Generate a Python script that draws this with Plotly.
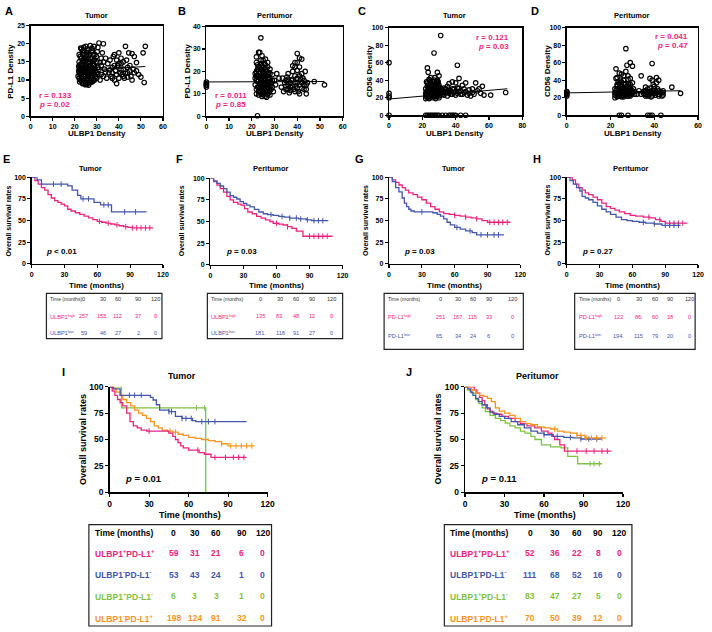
import plotly.graph_objects as go

W, H = 712, 632
FONT = "Liberation Sans, Arial, sans-serif"
PINK, BLUE, GREEN, ORANGE = "#E8247F", "#4356A8", "#7DC242", "#F7931E"

# ---------------- scatter data ----------------
ptsA = [(22,12),(22.5,13),(23,11),(23.5,14),(24,10),(24.5,12.5),(25,11.5),(25.5,13.5),(26,10.5),(26.5,12),
        (27,14),(27.5,11),(28,12.5),(28.5,10),(29,13),(22,15),(23,16),(24,17.5),(25,15.5),(26,16.5),(27,15),
        (28,16),(29,15.5),(22.5,10),(23.5,9),(24.5,9.5),(25.5,8.8),(26.5,9.2),(27.5,9.8),(28.5,11.5),(22,17),
        (23,18.5),(24,19),(25,19.3),(26,18),(27,19.5),(28,18.2),(22.5,11.5),(23.5,12.2),(24.5,13.8),(25.5,10.2),
        (26.5,14.5),(27.5,13.2),(28.5,14.2),(29.5,11),(23,13.5),(24,11.2),(25,12.8),(26,13.2),(27,10.8),
        (21.8,13.8),(22.2,9.5),(23.8,15.2),(25.2,16.8),(26.8,11.8),(28.2,12.2),(29.2,17),(30,12),(30.5,19),
        (31,20.2),(32,11.5),(32.5,17.5),(33,20),(33.5,13),(34,16),(34.5,10.5),(35,14.5),(35.5,12),(36,15.5),
        (36.5,11),(37,13.5),(37.5,16.5),(38,10),(38.5,12.5),(39,9),(39.5,14),(40,17.5),(40.5,12),(41,14.5),
        (41.5,11.5),(42,13),(42.5,10.5),(43,19.3),(43.5,15.5),(44,12),(44.5,17.5),(45,14),(45.5,11),(46,17.3),
        (46.5,13),(47,16.5),(48,12.5),(49,11.5),(50,10.8),(51,17.5),(51.5,9.3),(52,19.3),(38,17),(40,14.5),
        (42,11),(44,13.5),(36,12.8),(34,12.2),(31.5,14.8),(30.5,13.5),
        (21.5,11),(22,10.5),(22.5,12),(23,12.5),(23.5,10.5),(24,13),(24.5,11),(25,10),(25.5,12),(26,11.5),
        (26.5,13),(27,12),(27.5,12.5),(28,10.8),(28.5,13),(29,11.5),(22,13.5),(23,14.5),(24,15.5),(25,14),
        (26,14.8),(27,16),(28,14.5),(29,14),(22.5,16.5),(23.5,17),(24.5,16),(25.5,17.5),(26.5,17),(27.5,17.8),
        (28.5,16.8),(23,10),(24,9.2),(25,9),(26,9.8),(27,9.3),(28,9.5),(29,10),(30,10.5),(30,15),(30.5,11.5),
        (31,13),(31.5,10),(32,14),(32,16),(33,11),(33,15),(21.8,12.5),(22.3,14.2),(23.2,11.8),(24.2,12.2),
        (25.3,13.3),(26.2,12.4),(27.3,11.2),(28.3,15.2),(29.3,12.6),(23.6,18),(25.7,18.6),(27.8,18.8),
        (24.8,8.7),(26.3,8.6),(22.7,18.8),(28.8,19.3),(29.8,16.5),(30.2,17.8),(37,12),(38,14),(39,11.5),
        (40,10.5),(41,12.8),(42,15),(43,11.8),(44,10.8),(45,12.5),(39,15.5),(41,16),(37,10.5),(46,10),(47,12),
        (48,14.8)]
ptsB = [(0,13),(0,13.8),(0,14.5),(0,15.2),(0,14),(21.5,19),(22,24),(22,26.5),(22.5,21),(23,28.5),(23.5,28.5),
        (24,35),(24,25),(24.5,22.5),(25,20),(25.5,23.5),(26,21),(26.5,18),(27,22),(27.5,19.5),(28,17),(22,16),
        (22.5,13),(23,11),(23.5,14.5),(24,17),(24.5,12),(25,15),(25.5,10),(26,13.5),(26.5,15.5),(27,12.5),
        (27.5,14),(28,11.5),(29,13),(29,18.5),(30,16),(22,18),(23,20),(24,19.5),(25,17.5),(26,16.5),(27,17),
        (28,15),(22.5,15.5),(23.5,12.5),(24.5,14),(25.5,16),(26.5,11),(27.5,10.5),(23,9.5),(24,10.5),(25,11.5),
        (26,9),(27,9.8),(28,19),(23.5,22),(25,25),(26,23),(24.5,27),(22.5,0.2),(29.5,11),(30.5,14),(31,19),
        (32,17),(33,13),(34,11),(34.5,15),(35,12),(35.5,17.5),(36,14),(36.5,10.5),(37,13),(37.5,16),(38,22.5),
        (38.5,12),(39,18),(39,24),(39.5,13.5),(40,28),(40,15),(40.5,11),(41,26),(41.5,16.5),(42,12.5),(42,25.5),
        (42.5,17),(43,14),(43.5,20),(44,12),(44,10),(44.5,15),(38,20),(40,20.5),(41,18),(36,19),(37,11.5),
        (35,16),(39,11),(33.5,17),(43,16),(47.5,15.5),(52,14),
        (21.5,14),(21.5,17),(22,12),(22,20),(22.5,18),(22.5,23),(23,13),(23,16),(23,22),(23.5,17.5),(23.5,10.5),
        (24,13),(24,15),(24,21),(24.5,18),(24.5,10),(25,13),(25,19),(25,22),(25.5,12),(25.5,14.5),(25.5,19),
        (26,11),(26,15),(26,18.5),(26.5,13),(26.5,20),(27,14.5),(27,19),(27,11),(27.5,16.5),(27.5,12.5),
        (28,13.5),(28,21),(28.5,15),(28.5,12),(29,16),(22,10),(23,18),(24,23.5),(25,9.5),(26,25.5),(27,24),
        (28,9.5),(26.5,8.5),(24.5,8.8),(35,13.5),(36,12),(37,15),(38,13.5),(39,15),(40,12.5),(41,14),(42,15),
        (43,12),(44,14),(40,17),(38,16.5),(42,19),(36,16.5),(41,10),(39,22),(40,24),(41,22)]
ptsC = [(0,60),(0,25),(0,22),(0,20),(0,0),(22,0),(23,0),(24,0),(25,0),(26,0),(27,0),(28,0),(29,0),(30,0),
        (32,0),(34,0),(36,0),(37,0),(38,0),(39,0),(40,0),(43,0),(46,0),(22,22),(22.5,27),(23,33),(23,54),
        (23.5,49),(24,25),(24.5,30),(25,37),(25,43),(25.5,21),(26,28),(26.5,35),(27,40),(27,71),(27.5,24),
        (28,31),(28.5,38),(29,26),(29,49),(29.5,33),(30,45),(30,22),(22,30),(23,20),(24,36),(25,26),(26,23),
        (27,29),(28,21),(29,36),(24,41),(26,33),(28,27),(22.5,38),(25.5,32),(27.5,34),(31,91),(31,28),(32,24),
        (33,31),(34,26),(35,22),(35,33),(36,28),(37,24),(38,30),(38,38),(39,26),(40,23),(41,57),(41,31),
        (42,42),(42,27),(43,24),(44,34),(45,26),(46,37),(47,23),(48,29),(50,26),(51,24),(52,37),(53,28),
        (55,25),(56,33),(57,23),(61,23),(70,26),(40,37),(36,36),(33,26),(45,30),(49,22),(54,30),
        (22,25),(22,19),(22.5,23),(23,28),(23,37),(23.5,21),(23.5,31),(24,22),(24,33),(24.5,26),(24.5,40),
        (25,23),(25,29),(25.5,35),(25.5,27),(26,20),(26,38),(26.5,25),(26.5,31),(27,22),(27,33),(27.5,29),
        (27.5,43),(28,24),(28,35),(28.5,22),(28.5,29),(29,31),(29,40),(29.5,24),(29.5,38),(30,28),(30,34),
        (30.5,25),(31,31),(31,23),(24,29),(26,35),(28,33),(25,33),(27,26),(23,24),(29,28),(26,27),(24,19),
        (28,19),(30,20),(32,29),(33,23),(34,30),(35,27),(37,28),(39,30),(41,25),(43,28),(44,24),(46,27),
        (48,25),(50,30),(38,24),(36,25),(42,31),(40,27)]
ptsD = [(0,22),(0,23.5),(0,25),(0,26.5),(0,27),(24,0),(25,0),(28,0),(37,0),(38,0),(39,0),(43,0),(22,20),
        (22,30),(22.5,42),(22.5,53),(23,25),(23,35),(23.5,22),(24,28),(24,48),(24.5,33),(25,21),(25,38),
        (25.5,26),(26,31),(26,45),(26.5,23),(27,36),(27,76),(27.5,27),(27.5,57),(28,22),(28,41),(28.5,32),
        (29,25),(29,60),(29.5,29),(30,56),(30,37),(23,30),(25,30),(26,26),(28,28),(24,24),(29,22),(31,27),
        (32,24),(33,28),(30,25),(34,45),(35,25),(35.5,28),(36,22),(36.5,26),(37,30),(37.5,24),(38,27),(38,42),
        (38.5,21),(39,59),(39,25),(39.5,35),(40,28),(40.5,23),(41,43),(41,26),(41.5,30),(42,40),(42,24),
        (43,27),(43.5,22),(44,26),(36,32),(40,33),(48,32),(52,25),
        (22,23),(22,26),(22.5,28),(23,21),(23,33),(23.5,26),(23.5,38),(24,22),(24,31),(24.5,25),(24.5,40),
        (25,27),(25,33),(25.5,23),(25.5,30),(26,21),(26,28),(26.5,35),(26.5,26),(27,24),(27,30),(27.5,22),
        (27.5,33),(28,25),(28,36),(28.5,27),(28.5,23),(29,30),(29,35),(29.5,24),(30,27),(30.5,30),(31,24),
        (24,36),(26,40),(28,45),(25,47),(23,43),(29,42),(27,50),(35,27),(36,24),(37,27),(38,24),(39,28),
        (39,22),(40,25),(41,27),(42,22),(42,28),(43,25),(44,23),(37,22),(38,31),(40,30),(36,28),(34,24),
        (44,28),(41,37),(39,40)]
# fitted lines: intercept, slope, x-start, x-end
fitA = [11.8, 0.037, 21, 52]
fitB = [15.3, 0.004, 0, 52]
fitC = [18.5, 0.165, 0, 71]
fitD = [25.5, 0.048, 0, 52]

# ---------------- Kaplan-Meier data ----------------
E_hi_t = [0,3,6,9,12,15,18,21,24,27,30,33,36,40,44,48,52,56,60,64,68,72,76,80,84,88,92]
E_hi_s = [100,96,92,88,85,80,76,73,71,69,67,63,61,59,57,55,53,51,49,48,47,46,45,44,43,42,41.5]
E_lo_t = [0,5,9,33,37,42,45,57,63,73]
E_lo_s = [100,97,92,90,85,79,75,71,68,60]
F_hi_t = [0,3,6,9,12,15,18,21,25,28,31,34,38,42,46,50,54,57,62,66,70,74,78,84]
F_hi_s = [100,96,92,88,84,79,75,72,70,69,65,61,59,56,54,52,50,48,47,46,44,42,39,33]
F_lo_t = [0,3,6,9,12,15,18,21,24,27,30,33,36,40,44,48,52,57,62,67,72,80,87,92]
F_lo_s = [100,97,94,91,88,84,80,78,76,73,71,69,67,64,61,59,58,57,56,55,54,53,52,51]
G_hi_t = [0,3,6,9,12,15,18,22,26,30,34,38,42,46,50,55,60,65,70,75,80,85,90]
G_hi_s = [100,97,94,91,88,85,82,80,77,74,70,66,63,60,58,57,56,55,54,53,52,50,48]
G_lo_t = [0,3,6,9,12,14,16,18,20,23,40,44,47,50,53,56,60,65,70,76,80]
G_lo_s = [100,95,88,83,76,70,66,63,61,60,59,57,55,52,48,45,42,40,38,36,33.5]
H_hi_t = [0,5,8,11,14,17,20,24,28,32,36,40,44,48,53,58,63,70,76,81,86,90]
H_hi_s = [100,97,92,88,85,82,80,77,74,70,66,64,62,60,58,56,55,54,53,51,49,47]
H_lo_t = [0,3,6,9,12,14,17,20,24,28,32,36,40,45,50,55,60,66,72,80,87]
H_lo_s = [100,96,92,88,84,78,76,74,71,67,63,60,57,54,51,50,49,48,47,46,44.5]
I_pp_t = [0,2,4,6,8,10,13,15.5,18,21,24,28,45,48,50,52,54,56,60,68,72,77]
I_pp_s = [100,96,92,88,85,82,75,67,63,61,59,58,56,53,50,47,44,42,40,37.5,36,33]
I_nn_t = [0,3,8,31,33,35.5,38,45,50,55,63,65.5]
I_nn_s = [100,98,92,90,87.5,83,78,76.5,72,70,68,67]
I_pn_t = [0,9,73]
I_pn_s = [100,80,0]
I_np_t = [0,2,5,8,10,13,16,19,22,25,28,31,34,37,40,44,48,52,56,60,65,70,75,80,85,90]
I_np_s = [100,98,95,92,88,85,82,78,75,73,70,67,63,61,59,58,57,55,54,52,51,50,49,48,46,44]
J_pp_t = [0,7,9,11,13,15,17,19,21,24,28,33,38,42,47,53,58,63,66,68,72,75.5]
J_pp_s = [100,97,94,90,87,83,79,77,75,74,72,70,67,65,63,61,58,56,53,50,45,39]
J_nn_t = [0,2,4,6,8,10,13,16,19,22,26,30,35,40,45,50,55,60,67,75,82,88]
J_nn_s = [100,98,95,92,89,86,83,80,76,74,72,70,67,64,61,58,56,54.5,53,52,51.5,50.5]
J_pn_t = [0,2,5,8,10.5,13,15.5,19,23,27,30.5,34,38,42,45.5,50,53,58,65,73,78,85.5]
J_pn_s = [100,97,94,88,84,80,76.5,73,70,68,65.6,63,61,58,56,53,50,45,43,42,34,27]
J_np_t = [0,5,8,11,14,17,20,23,26,30,34,38,42,46,50,55,60,65,70,75,80,85,91]
J_np_s = [100,97,94,92,91,89,86,80,77,75,73,70,67,65,64,62,61,60,58,57,56,54,51.5]

# ---------------- tables ----------------
time_cols = ["0", "30", "60", "90", "120"]
E_rows = [("ULBP1<sup>high</sup>", ["257", "155.", "112", "37", "0"]),
          ("ULBP1<sup>low</sup>", ["59", "46", "27", "2", "0"])]
F_rows = [("ULBP1<sup>high</sup>", ["135", "83.", "48", "12", "0"]),
          ("ULBP1<sup>low</sup>", ["181.", "118", "91", "27", "0"])]
G_rows = [("PD-L1<sup>high</sup>", ["251", "167.", "115", "33", "0"]),
          ("PD-L1<sup>low</sup>", ["65.", "34", "24", "6", "0"])]
H_rows = [("PD-L1<sup>high</sup>", ["122", "86.", "60", "18", "0"]),
          ("PD-L1<sup>low</sup>", ["194.", "115", "79", "20", "0"])]
I_rows = [("ULBP1<sup>+</sup>PD-L1<sup>+</sup>", ["59", "31", "21", "6", "0"]),
          ("ULBP1<sup>-</sup>PD-L1<sup>-</sup>", ["53", "43", "24", "1", "0"]),
          ("ULBP1<sup>+</sup>PD-L1<sup>-</sup>", ["6", "3", "3", "1", "0"]),
          ("ULBP1<sup>-</sup>PD-L1<sup>+</sup>", ["198", "124", "91", "32", "0"])]
J_rows = [("ULBP1<sup>+</sup>PD-L1<sup>+</sup>", ["52", "36", "22", "8", "0"]),
          ("ULBP1<sup>-</sup>PD-L1<sup>-</sup>", ["111", "68", "52", "16", "0"]),
          ("ULBP1<sup>+</sup>PD-L1<sup>-</sup>", ["83", "47", "27", "5", "0"]),
          ("ULBP1<sup>-</sup>PD-L1<sup>+</sup>", ["70", "50", "39", "12", "0"])]

fig = go.Figure()
layout = {}
annotations = []
shapes = []


def X(p):
    return p / W


def Y(p):
    return 1 - p / H


def ann(text, x, y, size, color="black", bold=True, xanchor="center", angle=0):
    annotations.append(dict(text=text, x=X(x), y=Y(y), xref="paper", yref="paper", showarrow=False,
                            xanchor=xanchor, yanchor="middle", textangle=angle,
                            font=dict(family=FONT, size=size, color=color,
                                      weight="bold" if bold else "normal")))


def setup_axes(i, box, xr, xt, yr, yt, mirror, fs, lw=1.3):
    k = "" if i == 1 else str(i)
    x0, x1, y0, y1 = box
    common = dict(showline=True, linecolor="black", linewidth=lw, mirror=mirror, ticks="outside",
                  ticklen=3, tickwidth=1.2, tickcolor="black", showgrid=False, zeroline=False,
                  tickfont=dict(family=FONT, size=fs, color="black", weight="bold"), fixedrange=True)
    layout["xaxis" + k] = dict(domain=[X(x0), X(x1)], range=xr, tickvals=xt, anchor="y" + k, **common)
    layout["yaxis" + k] = dict(domain=[Y(y1), Y(y0)], range=yr, tickvals=yt, anchor="x" + k, **common)
    return ("x" + k, "y" + k)


def scatter_panel(i, box, pts, fit, xr, xt, yr, yt):
    xa, ya = setup_axes(i, box, xr, xt, yr, yt, True, 7)
    xs = [p[0] for p in pts]
    ys = [p[1] for p in pts]
    fig.add_trace(go.Scatter(x=xs, y=ys, mode="markers", xaxis=xa, yaxis=ya, cliponaxis=False,
                             marker=dict(symbol="circle-open", size=4.5, color="black", line=dict(width=1.15)),
                             showlegend=False, hoverinfo="skip"))
    b, m, xa0, xa1 = fit
    fig.add_trace(go.Scatter(x=[xa0, xa1], y=[b + m * xa0, b + m * xa1], mode="lines", xaxis=xa, yaxis=ya,
                             line=dict(color="black", width=1), showlegend=False, hoverinfo="skip"))


def surv_at(t, ts, ss):
    v = ss[0]
    for a, b in zip(ts, ss):
        if a <= t:
            v = b
    return v


def km(xa, ya, ts, ss, end, color, cens, width=1.3):
    fig.add_trace(go.Scatter(x=ts + [end], y=ss + [ss[-1]], mode="lines", line_shape="hv",
                             xaxis=xa, yaxis=ya, cliponaxis=False,
                             line=dict(color=color, width=width), showlegend=False, hoverinfo="skip"))
    if cens:
        fig.add_trace(go.Scatter(x=cens, y=[surv_at(c, ts, ss) for c in cens], mode="markers",
                                 xaxis=xa, yaxis=ya, cliponaxis=False,
                                 marker=dict(symbol="line-ns-open", size=4, color=color,
                                             line=dict(width=1, color=color)),
                                 showlegend=False, hoverinfo="skip"))


def km_axes(i, box, fs, lw=1.3):
    return setup_axes(i, box, [0, 120], [0, 30, 60, 90, 120], [0, 100], [0, 25, 50, 75, 100], False, fs, lw)


def table(box, col_x, label_x, rows, row_y, header_y, fs_head, fs, bold, colors, head_color):
    x0, x1, y0, y1 = box
    shapes.append(dict(type="rect", xref="paper", yref="paper", x0=X(x0), x1=X(x1), y0=Y(y1), y1=Y(y0),
                       line=dict(color="#222", width=1.2)))
    ann("Time (months)", label_x, header_y, fs_head, head_color, bold, "left")
    for cx, c in zip(col_x, time_cols):
        ann(c, cx, header_y, fs, head_color, bold)
    for (lab, vals), ry, col in zip(rows, row_y, colors):
        ann(lab, label_x, ry, fs, col, bold, "left")
        for cx, v in zip(col_x, vals):
            ann(v, cx, ry, fs, col, bold)


# ---------------- Row 1: scatter ----------------
scatter_panel(1, (29, 163, 21, 113), ptsA, fitA, [0, 60], [0, 10, 20, 30, 40, 50, 60], [0, 25], [0, 5, 10, 15, 20, 25])
scatter_panel(2, (207, 345, 22, 113), ptsB, fitB, [0, 60], [0, 10, 20, 30, 40, 50, 60], [0, 40], [0, 10, 20, 30, 40])
scatter_panel(3, (392, 527, 23, 112), ptsC, fitC, [0, 80], [0, 20, 40, 60, 80], [0, 100], [0, 20, 40, 60, 80, 100])
scatter_panel(4, (572, 705, 23, 112), ptsD, fitD, [0, 60], [0, 20, 40, 60], [0, 100], [0, 20, 40, 60, 80, 100])

for letter, lx, title, tx, ytl, ylx, cx in [("A", 7, "Tumor", 96, "PD-L1 Density", 9, 96),
                                            ("B", 182, "Peritumor", 277, "PD-L1 Density", 188, 276),
                                            ("C", 365, "Tumor", 458, "CD56 Density", 373, 459),
                                            ("D", 540, "Peritumor", 638, "CD56 Density", 553, 639)]:
    ann(letter, lx, 6, 11)
    ann(title, tx, 11, 7.5)
    ann(ytl, ylx, 67, 8, angle=-90)
    ann("ULBP1 Density", cx, 131, 8)

ann("r = 0.133", 35, 92, 8, PINK, xanchor="left")
ann("<i>p</i> = 0.02", 35, 101, 8, PINK, xanchor="left")
ann("r = 0.011", 214, 92, 8, PINK, xanchor="left")
ann("<i>p</i> = 0.85", 214, 101, 8, PINK, xanchor="left")
ann("r = 0.121", 516, 33, 8, PINK, xanchor="right")
ann("<i>p</i> = 0.03", 516, 42, 8, PINK, xanchor="right")
ann("r = 0.041", 697, 32, 8, PINK, xanchor="right")
ann("<i>p</i> = 0.47", 697, 41, 8, PINK, xanchor="right")

# ---------------- Row 2: KM two-group ----------------
xa, ya = km_axes(5, (30, 163, 175, 263), 7)
km(xa, ya, E_hi_t, E_hi_s, 111, PINK, [62, 70, 78, 86, 92, 96, 100, 104, 108])
km(xa, ya, E_lo_t, E_lo_s, 105, BLUE, [20, 27, 47, 52, 66, 70, 85, 95])
xa, ya = km_axes(6, (211, 345, 176, 264), 7)
km(xa, ya, F_hi_t, F_hi_s, 111, PINK, [60, 70, 90, 94, 98, 102, 106])
km(xa, ya, F_lo_t, F_lo_s, 107, BLUE, [55, 65, 72, 78, 82, 88, 94, 98, 102])
xa, ya = km_axes(7, (392, 525, 175, 263), 7)
km(xa, ya, G_hi_t, G_hi_s, 111, PINK, [60, 70, 80, 92, 96, 100, 104, 108])
km(xa, ya, G_lo_t, G_lo_s, 105, BLUE, [30, 62, 74, 84, 90, 96, 100])
xa, ya = km_axes(8, (572, 705, 175, 263), 7)
km(xa, ya, H_hi_t, H_hi_s, 110, PINK, [75, 85, 94, 98, 102, 106])
km(xa, ya, H_lo_t, H_lo_s, 104, BLUE, [70, 80, 90, 94, 98, 102])

for letter, lx, title, tx, ylx, cx, p, pxx in [("E", 5, "Tumor", 90, 7, 96, "<i>p</i> < 0.01", 43),
                                               ("F", 180, "Peritumor", 272, 182, 278, "<i>p</i> = 0.03", 225),
                                               ("G", 362, "Tumor", 457, 368, 458, "<i>p</i> = 0.03", 405),
                                               ("H", 542, "Peritumor", 637, 553, 639, "<i>p</i> = 0.27", 585)]:
    ann(letter, lx, 156, 11)
    ann(title, tx, 166, 7.5)
    ann("Overall survival rates", ylx, 219, 7, angle=-90)
    ann("Time (months)", cx, 285, 8)
    ann(p, pxx, 250, 8, xanchor="left")

table((45, 162, 293, 339), [83, 102, 117, 138, 155], 47, E_rows, [316, 333], 299, 5, 5.6, False, [PINK, BLUE], "#333")
table((208, 345, 293, 339), [262, 282, 298, 314, 334], 210, F_rows, [316, 333], 299, 5, 5.6, False, [PINK, BLUE], "#333")
table((387, 528, 293, 350), [444, 462, 477, 493, 517], 389, G_rows, [317, 336], 299, 5, 5.6, False, [PINK, BLUE], "#333")
table((580, 702, 293, 350), [624, 645, 661, 677, 696], 582, H_rows, [317, 336], 299, 5, 5.6, False, [PINK, BLUE], "#333")

# ---------------- Row 3: KM four-group ----------------
xa, ya = km_axes(9, (109, 269, 388, 495), 8.5, 1.5)
km(xa, ya, I_pn_t, I_pn_s, 73, GREEN, [66, 72], 1.3)
km(xa, ya, I_np_t, I_np_s, 110, ORANGE, [46, 50, 85, 92, 96, 100, 104, 108], 1.3)
km(xa, ya, I_pp_t, I_pp_s, 104, PINK, [30, 67, 80, 88, 94, 98, 102], 1.3)
km(xa, ya, I_nn_t, I_nn_s, 104, BLUE, [15, 19, 24, 45, 47, 55, 58, 62, 70, 75, 80], 1.3)
xa, ya = km_axes(10, (469, 629, 388, 495), 8.5, 1.5)
km(xa, ya, J_pn_t, J_pn_s, 104, GREEN, [95, 98, 102], 1.3)
km(xa, ya, J_pp_t, J_pp_s, 111, PINK, [85, 92, 98, 104, 108], 1.3)
km(xa, ya, J_nn_t, J_nn_s, 104, BLUE, [60, 70, 80, 88, 94, 100], 1.3)
km(xa, ya, J_np_t, J_np_s, 107, ORANGE, [68, 85, 88, 92, 96, 100, 104], 1.3)

ann("I", 62, 373, 11)
ann("Tumor", 182, 377, 9)
ann("Overall survival rates", 82, 441, 9, angle=-90)
ann("<i>p</i> = 0.01", 123, 481, 9.5, xanchor="left")
ann("Time (months)", 190, 518, 9)
ann("J", 412, 373, 11)
ann("Peritumor", 542, 377, 9)
ann("Overall survival rates", 442, 441, 9, angle=-90)
ann("<i>p</i> = 0.11", 483, 481, 9.5, xanchor="left")
ann("Time (months)", 550, 518, 9)

row_y3 = [557, 579, 601, 623]
cols4 = [PINK, BLUE, GREEN, ORANGE]
table((88, 273, 528, 631), [174, 195, 217, 243, 264], 92, I_rows, row_y3, 536, 8.5, 8.5, True, cols4, "black")
table((448, 638, 528, 631), [535, 560, 582, 604, 625], 452, J_rows, row_y3, 536, 8.5, 8.5, True, cols4, "black")

layout.update(width=W, height=H, margin=dict(l=0, r=0, t=0, b=0), paper_bgcolor="white",
              plot_bgcolor="rgba(0,0,0,0)", annotations=annotations, shapes=shapes, showlegend=False,
              font=dict(family=FONT))
fig.update_layout(**layout)
fig.write_html("out.html", config={"displayModeBar": False, "staticPlot": True},
               post_script="document.body.style.margin='0';document.body.style.padding='0';"
                           "document.body.style.overflow='hidden';")
